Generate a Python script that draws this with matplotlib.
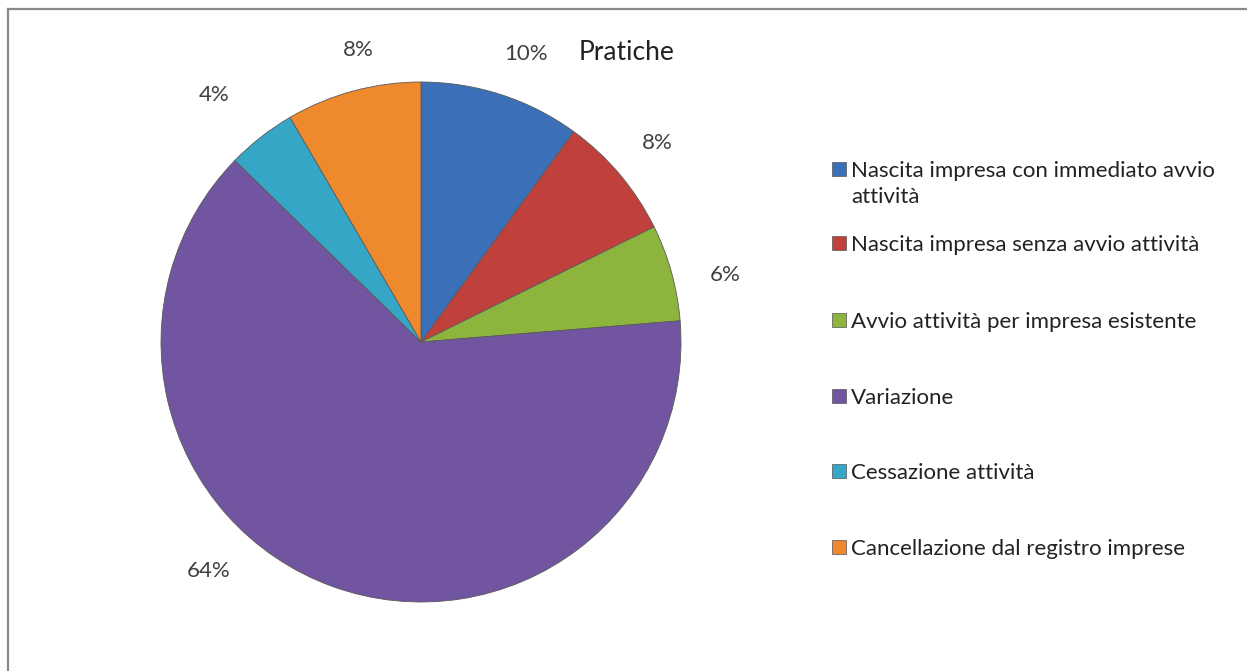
import matplotlib.pyplot as plt
import numpy as np
from matplotlib.lines import Line2D
from matplotlib.patches import Rectangle

plt.rcParams["font.family"] = ["Lato", "DejaVu Sans"]

categories = [
    "Nascita impresa con immediato avvio\nattività",
    "Nascita impresa senza avvio attività",
    "Avvio attività per impresa esistente",
    "Variazione",
    "Cessazione attività",
    "Cancellazione dal registro imprese",
]
shares = [10.0, 7.7, 6.0, 63.6, 4.3, 8.4]
colors = ["#3b70b9", "#c0403b", "#8db53e", "#7155a0", "#36a6c6", "#ee8a2d"]
title = "Pratiche"

W, H = 1247, 671
fig = plt.figure(figsize=(W / 100, H / 100), dpi=100)
fig.patch.set_facecolor("white")

# pie axes: centre (421, 342), radius 260 px
cx, cy, r = 421, 342, 260
ax = fig.add_axes([(cx - r) / W, (H - cy - r) / H, 2 * r / W, 2 * r / H])
wedges, _ = ax.pie(
    shares, colors=colors, startangle=90, counterclock=False, radius=1,
    wedgeprops=dict(edgecolor="#5a5a5a", linewidth=0.6),
)
ax.set_xlim(-1, 1)
ax.set_ylim(-1, 1)
ax.set_aspect("equal")
ax.axis("off")

# percentage labels outside the wedges (Excel moved the big one a bit)
angle_shift = [-2, 0, -3, -23, 2, -3]
dist = [1.18, 1.19, 1.2, 1.2, 1.24, 1.15]
for w, v, s, d in zip(wedges, shares, angle_shift, dist):
    a = np.deg2rad((w.theta1 + w.theta2) / 2 + s)
    ax.text(d * np.cos(a), d * np.sin(a), f"{v:.0f}%", ha="center", va="center",
            fontsize=16, color="#404040", clip_on=False)

fig.text(627 / W, 1 - 52 / H, title, ha="center", va="center", fontsize=19, color="#222222")

# legend entries
legend_y = [169, 243, 320, 396, 471, 547]
for lab, col, y in zip(categories, colors, legend_y):
    fig.add_artist(Rectangle((832 / W, 1 - (y + 7) / H), 14 / W, 14 / H,
                             transform=fig.transFigure, facecolor=col,
                             edgecolor="#555555", linewidth=0.5))
    fig.text(851 / W, 1 - (y - 8) / H, lab, ha="left", va="top", fontsize=16,
             color="#222222", linespacing=1.4)

# chart frame (only top and left edges visible in the crop)
fig.add_artist(Line2D([8 / W, 1], [1 - 9 / H, 1 - 9 / H], transform=fig.transFigure,
                      color="#888888", linewidth=1.6))
fig.add_artist(Line2D([8 / W, 8 / W], [0, 1 - 9 / H], transform=fig.transFigure,
                      color="#888888", linewidth=1.6))

fig.savefig("out.png", dpi=100)
